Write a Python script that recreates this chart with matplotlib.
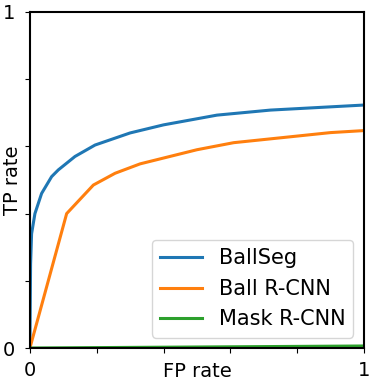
import matplotlib
matplotlib.use("Agg")
import matplotlib.pyplot as plt

ballseg_fp = [0.0, 0.002, 0.005, 0.015, 0.035, 0.065, 0.085, 0.135, 0.195, 0.30, 0.40, 0.56, 0.72, 1.0]
ballseg_tp = [0.0, 0.25, 0.34, 0.40, 0.46, 0.51, 0.53, 0.57, 0.604, 0.64, 0.664, 0.693, 0.708, 0.723]

ballrcnn_fp = [0.0, 0.11, 0.19, 0.255, 0.33, 0.5, 0.61, 0.90, 1.0]
ballrcnn_tp = [0.0, 0.40, 0.485, 0.52, 0.548, 0.59, 0.611, 0.641, 0.647]

mask_fp = [0.0, 0.5, 1.0]
mask_tp = [0.0, 0.003, 0.006]

ticks = [0, 0.2, 0.4, 0.6, 0.8, 1.0]
tick_labels = ["0", "", "", "", "", "1"]

fig = plt.figure(figsize=(3.74, 3.81), dpi=100)
ax = fig.add_axes([0.080, 0.0866, 0.893, 0.882])
ax.plot(ballseg_fp, ballseg_tp, color="#1f77b4", lw=2.2, label="BallSeg")
ax.plot(ballrcnn_fp, ballrcnn_tp, color="#ff7f0e", lw=2.2, label="Ball R-CNN")
ax.plot(mask_fp, mask_tp, color="#2ca02c", lw=2.2, label="Mask R-CNN")
ax.set_xlim(0, 1)
ax.set_ylim(0, 1)
ax.set_xticks(ticks)
ax.set_xticklabels(tick_labels)
ax.set_yticks(ticks)
ax.set_yticklabels(tick_labels)
ax.tick_params(axis="x", labelsize=14, length=3.5, pad=5.5)
ax.tick_params(axis="y", labelsize=14, length=3.5, pad=7)
for s in ax.spines.values():
    s.set_linewidth(1.5)
ax.set_xlabel("FP rate", fontsize=14)
ax.set_ylabel("TP rate", fontsize=14)
ax.xaxis.set_label_coords(0.5, -0.042)
ax.yaxis.set_label_coords(-0.024, 0.5)
ax.legend(loc="lower right", fontsize=15, handlelength=2.0)
fig.savefig("out.png", dpi=100)
